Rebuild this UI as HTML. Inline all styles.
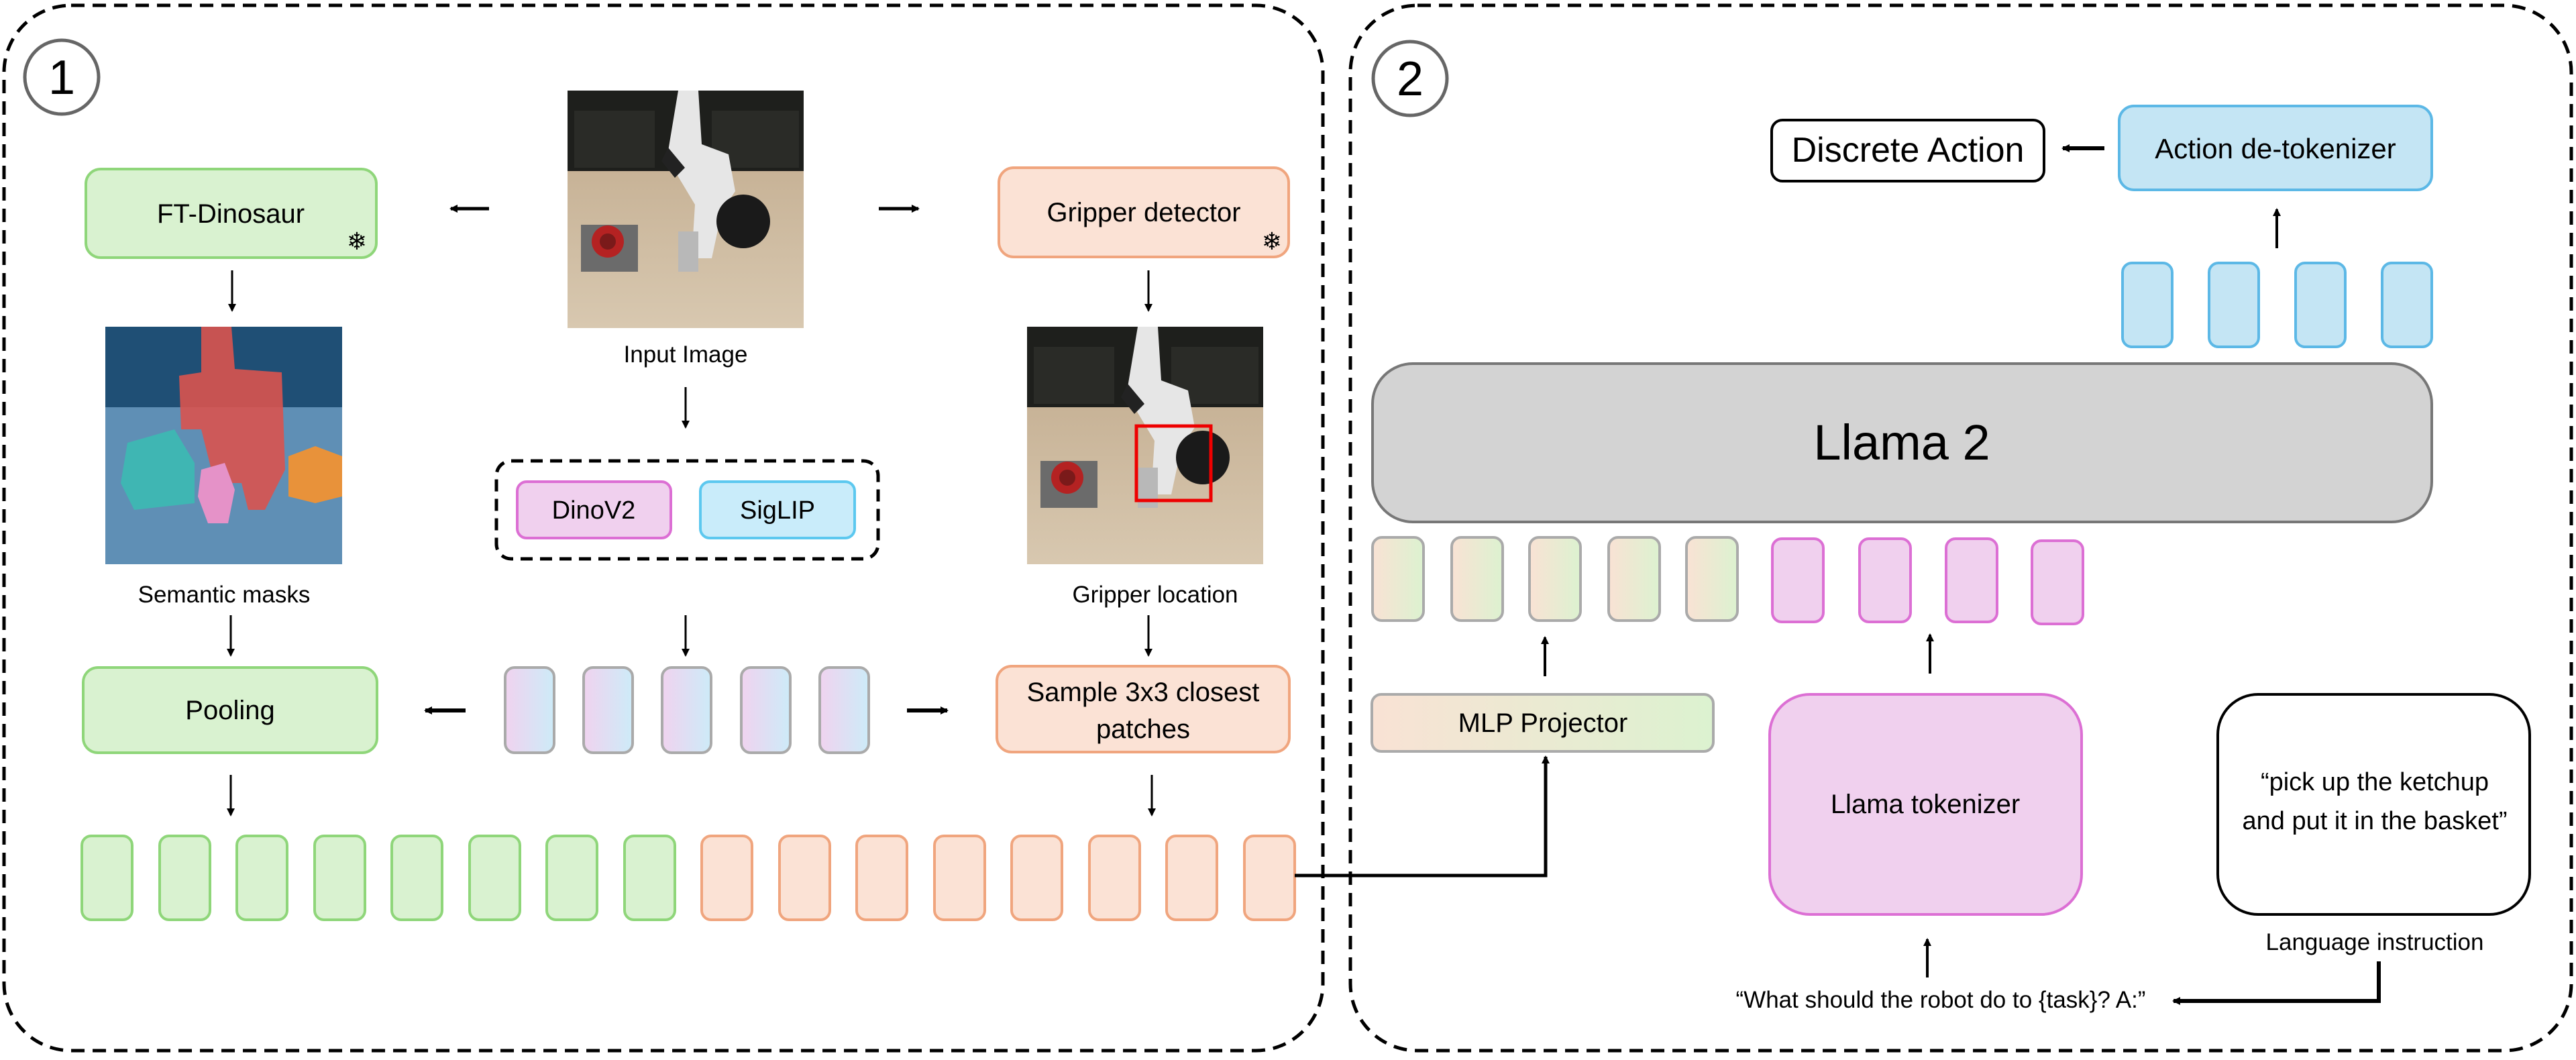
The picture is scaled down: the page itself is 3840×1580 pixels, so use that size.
<!DOCTYPE html>
<html><head><meta charset="utf-8"><style>
html,body{margin:0;padding:0;background:#fff;}
svg{display:block;}
text{font-family:"Liberation Sans",sans-serif;fill:#000;}
</style></head><body>
<svg width="3840" height="1580" viewBox="0 0 3840 1580" xmlns="http://www.w3.org/2000/svg">
<defs>
<marker id="ah" markerWidth="12" markerHeight="12" refX="10" refY="6" orient="auto" markerUnits="userSpaceOnUse"><path d="M0,0 L12,6 L0,12 z" fill="#000"/></marker>
<linearGradient id="pb" x1="0" x2="1"><stop offset="0" stop-color="#f0d3ef"/><stop offset="1" stop-color="#cdebf8"/></linearGradient>
<linearGradient id="og" x1="0" x2="1"><stop offset="0" stop-color="#f9e2d4"/><stop offset="1" stop-color="#dcf2d0"/></linearGradient>
<linearGradient id="wood" x1="0" y1="0" x2="0" y2="1"><stop offset="0" stop-color="#bfa88a"/><stop offset="1" stop-color="#d8c8b0"/></linearGradient>
<g id="scene">
<rect x="0" y="0" width="352" height="354" fill="url(#wood)"/>
<rect x="0" y="0" width="352" height="120" fill="#1e1f1c"/>
<rect x="10" y="30" width="120" height="85" fill="#2a2b27"/>
<rect x="215" y="30" width="130" height="85" fill="#2a2b27"/>
<path d="M165,0 L195,0 L200,80 L240,95 L250,150 L230,180 L215,250 L185,250 L190,170 L160,120 L150,90 Z" fill="#e6e6e6"/>
<path d="M150,85 L175,115 L160,130 L140,105 Z" fill="#222"/>
<circle cx="262" cy="195" r="40" fill="#1a1a1a"/>
<rect x="20" y="200" width="85" height="70" fill="#6b6b6b"/>
<circle cx="60" cy="225" r="24" fill="#b42222"/>
<circle cx="60" cy="225" r="12" fill="#7a1a1a"/>
<rect x="165" y="210" width="30" height="60" fill="#b8b8b8"/>
</g>
</defs>

<rect x="6" y="8" width="1966" height="1558" rx="100" fill="none" stroke="#000" stroke-width="5" stroke-dasharray="20,12"/>
<rect x="2013" y="8" width="1820" height="1558" rx="100" fill="none" stroke="#000" stroke-width="5" stroke-dasharray="20,12"/>
<circle cx="92" cy="115" r="55" fill="#fff" stroke="#666" stroke-width="5"/>
<text x="92" y="140" font-size="72" text-anchor="middle">1</text>
<circle cx="2102" cy="117" r="55" fill="#fff" stroke="#666" stroke-width="5"/>
<text x="2102" y="142" font-size="72" text-anchor="middle">2</text>

<rect x="128" y="252" width="433" height="132" rx="22" fill="#d9f2d0" stroke="#8fd67a" stroke-width="4"/>
<text x="344" y="332" font-size="40" text-anchor="middle">FT-Dinosaur</text>
<text x="532" y="372" font-size="36" text-anchor="middle">❄</text>
<rect x="1489" y="250" width="432" height="133" rx="22" fill="#fbe2d5" stroke="#f0a57e" stroke-width="4"/>
<text x="1705" y="330" font-size="40" text-anchor="middle">Gripper detector</text>
<text x="1896" y="372" font-size="36" text-anchor="middle">❄</text>

<use href="#scene" x="846" y="135"/>
<text x="1022" y="540" font-size="35" text-anchor="middle">Input Image</text>
<line x1="729" y1="311" x2="672" y2="311" stroke="#000" stroke-width="5" marker-end="url(#ah)"/>
<line x1="1310" y1="311" x2="1369" y2="311" stroke="#000" stroke-width="5" marker-end="url(#ah)"/>
<line x1="346" y1="403" x2="346" y2="463" stroke="#000" stroke-width="3" marker-end="url(#ah)"/>
<line x1="1712" y1="403" x2="1712" y2="463" stroke="#000" stroke-width="3" marker-end="url(#ah)"/>
<line x1="1022" y1="577" x2="1022" y2="637" stroke="#000" stroke-width="3" marker-end="url(#ah)"/>

<rect x="157" y="487" width="353" height="354" fill="#5f8fb5"/>
<rect x="157" y="487" width="353" height="120" fill="#1f4f75"/>
<path d="M300,487 L345,487 L350,550 L420,555 L425,700 L395,760 L370,760 L360,720 L320,720 L300,640 L270,640 L267,560 L300,555 Z" fill="#d9534f" opacity="0.9"/>
<path d="M430,680 L470,665 L510,680 L510,740 L470,750 L430,740 Z" fill="#e8923a"/>
<path d="M190,660 L260,640 L290,690 L290,750 L200,760 L180,720 Z" fill="#3fb6b3"/>
<path d="M300,700 L335,690 L350,730 L340,780 L310,780 L295,740 Z" fill="#e592c8"/>
<text x="334" y="898" font-size="35" text-anchor="middle">Semantic masks</text>

<use href="#scene" x="1531" y="487"/>
<rect x="1694" y="635" width="111" height="111" fill="none" stroke="#e00" stroke-width="5"/>
<text x="1722" y="898" font-size="35" text-anchor="middle">Gripper location</text>

<rect x="740" y="687" width="569" height="146" rx="22" fill="none" stroke="#000" stroke-width="5" stroke-dasharray="18,11"/>
<rect x="771" y="718" width="229" height="84" rx="14" fill="#f0d0ee" stroke="#dc6fd4" stroke-width="4"/>
<text x="885" y="773" font-size="38" text-anchor="middle">DinoV2</text>
<rect x="1044" y="718" width="230" height="84" rx="14" fill="#c9ecfa" stroke="#5cc8ef" stroke-width="4"/>
<text x="1159" y="773" font-size="38" text-anchor="middle">SigLIP</text>

<line x1="344" y1="917" x2="344" y2="977" stroke="#000" stroke-width="3" marker-end="url(#ah)"/>
<line x1="1022" y1="917" x2="1022" y2="977" stroke="#000" stroke-width="3" marker-end="url(#ah)"/>
<line x1="1712" y1="917" x2="1712" y2="977" stroke="#000" stroke-width="3" marker-end="url(#ah)"/>

<rect x="124" y="995" width="438" height="127" rx="22" fill="#d9f2d0" stroke="#8fd67a" stroke-width="4"/>
<text x="343" y="1072" font-size="40" text-anchor="middle">Pooling</text>
<g stroke="#aaa" stroke-width="4" fill="url(#pb)">
<rect x="753" y="995" width="73" height="127" rx="14"/>
<rect x="870" y="995" width="73" height="127" rx="14"/>
<rect x="987" y="995" width="73" height="127" rx="14"/>
<rect x="1105" y="995" width="73" height="127" rx="14"/>
<rect x="1222" y="995" width="73" height="127" rx="14"/>
</g>
<line x1="694" y1="1059" x2="634" y2="1059" stroke="#000" stroke-width="6" marker-end="url(#ah)"/>
<line x1="1352" y1="1059" x2="1412" y2="1059" stroke="#000" stroke-width="6" marker-end="url(#ah)"/>
<rect x="1486" y="993" width="436" height="128" rx="22" fill="#fbe2d5" stroke="#f0a57e" stroke-width="4"/>
<text x="1704" y="1045" font-size="40" text-anchor="middle">Sample 3x3 closest</text>
<text x="1704" y="1100" font-size="40" text-anchor="middle">patches</text>

<line x1="344" y1="1155" x2="344" y2="1215" stroke="#000" stroke-width="3" marker-end="url(#ah)"/>
<line x1="1717" y1="1155" x2="1717" y2="1215" stroke="#000" stroke-width="3" marker-end="url(#ah)"/>

<g stroke="#8fd67a" stroke-width="4" fill="#d9f2d0">
<rect x="122" y="1246" width="75" height="125" rx="14"/>
<rect x="238" y="1246" width="75" height="125" rx="14"/>
<rect x="353" y="1246" width="75" height="125" rx="14"/>
<rect x="469" y="1246" width="75" height="125" rx="14"/>
<rect x="584" y="1246" width="75" height="125" rx="14"/>
<rect x="700" y="1246" width="75" height="125" rx="14"/>
<rect x="815" y="1246" width="75" height="125" rx="14"/>
<rect x="931" y="1246" width="75" height="125" rx="14"/>
</g>
<g stroke="#f0a57e" stroke-width="4" fill="#fbe2d5">
<rect x="1046" y="1246" width="75" height="125" rx="14"/>
<rect x="1162" y="1246" width="75" height="125" rx="14"/>
<rect x="1277" y="1246" width="75" height="125" rx="14"/>
<rect x="1393" y="1246" width="75" height="125" rx="14"/>
<rect x="1508" y="1246" width="75" height="125" rx="14"/>
<rect x="1624" y="1246" width="75" height="125" rx="14"/>
<rect x="1739" y="1246" width="75" height="125" rx="14"/>
<rect x="1855" y="1246" width="75" height="125" rx="14"/>
</g>
<polyline points="1930,1305 2304,1305 2304,1128" fill="none" stroke="#000" stroke-width="5" marker-end="url(#ah)"/>

<rect x="2641" y="179" width="406" height="91" rx="16" fill="#fff" stroke="#000" stroke-width="4"/>
<text x="2844" y="241" font-size="52" text-anchor="middle">Discrete Action</text>
<line x1="3137" y1="221" x2="3075" y2="221" stroke="#000" stroke-width="6" marker-end="url(#ah)"/>
<rect x="3159" y="158" width="466" height="125" rx="22" fill="#c4e5f4" stroke="#5cb8e6" stroke-width="4"/>
<text x="3392" y="236" font-size="42" text-anchor="middle">Action de-tokenizer</text>
<line x1="3394" y1="370" x2="3394" y2="312" stroke="#000" stroke-width="4" marker-end="url(#ah)"/>
<g stroke="#5cb8e6" stroke-width="4" fill="#c4e5f4">
<rect x="3164" y="392" width="74" height="125" rx="14"/>
<rect x="3293" y="392" width="74" height="125" rx="14"/>
<rect x="3422" y="392" width="74" height="125" rx="14"/>
<rect x="3551" y="392" width="74" height="125" rx="14"/>
</g>
<rect x="2046" y="542" width="1579" height="236" rx="60" fill="#d3d3d3" stroke="#777" stroke-width="4"/>
<text x="2835" y="685" font-size="74" text-anchor="middle">Llama 2</text>
<g stroke="#aaa" stroke-width="4" fill="url(#og)">
<rect x="2046" y="801" width="76" height="124" rx="14"/>
<rect x="2164" y="801" width="76" height="124" rx="14"/>
<rect x="2280" y="801" width="76" height="124" rx="14"/>
<rect x="2398" y="801" width="76" height="124" rx="14"/>
<rect x="2514" y="801" width="76" height="124" rx="14"/>
</g>
<g stroke="#dc6fd4" stroke-width="4" fill="#f0d0ee">
<rect x="2642" y="803" width="76" height="124" rx="14"/>
<rect x="2772" y="803" width="76" height="124" rx="14"/>
<rect x="2901" y="803" width="76" height="124" rx="14"/>
<rect x="3029" y="806" width="76" height="124" rx="14"/>
</g>
<line x1="2303" y1="1008" x2="2303" y2="950" stroke="#000" stroke-width="4" marker-end="url(#ah)"/>
<line x1="2877" y1="1004" x2="2877" y2="946" stroke="#000" stroke-width="4" marker-end="url(#ah)"/>
<rect x="2045" y="1035" width="509" height="85" rx="14" fill="url(#og)" stroke="#aaa" stroke-width="4"/>
<text x="2300" y="1091" font-size="40" text-anchor="middle">MLP Projector</text>
<rect x="2638" y="1035" width="465" height="328" rx="60" fill="#f0d0ee" stroke="#dc6fd4" stroke-width="4"/>
<text x="2870" y="1212" font-size="40" text-anchor="middle">Llama tokenizer</text>
<rect x="3306" y="1035" width="465" height="328" rx="60" fill="#fff" stroke="#000" stroke-width="4"/>
<text x="3540" y="1178" font-size="38" text-anchor="middle">“pick up the ketchup</text>
<text x="3540" y="1236" font-size="38" text-anchor="middle">and put it in the basket”</text>
<text x="3540" y="1416" font-size="35" text-anchor="middle">Language instruction</text>
<line x1="2873" y1="1457" x2="2873" y2="1400" stroke="#000" stroke-width="4" marker-end="url(#ah)"/>
<text x="2893" y="1502" font-size="35" text-anchor="middle">“What should the robot do to {task}? A:”</text>
<polyline points="3546,1433 3546,1492 3240,1492" fill="none" stroke="#000" stroke-width="6" marker-end="url(#ah)"/>
</svg>
</body></html>
